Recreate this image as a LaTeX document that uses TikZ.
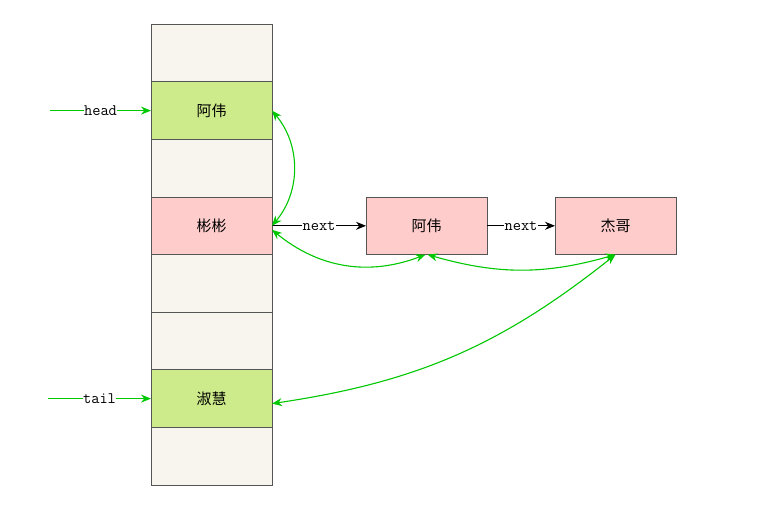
\documentclass[tikz,border=0pt]{standalone}
\usepackage{fontspec}
\newfontfamily\cjk{Noto Sans CJK SC}
\usetikzlibrary{positioning,arrows.meta}
\definecolor{cbeige}{HTML}{F7F5EE}
\definecolor{cverde}{HTML}{CDEB8B}
\definecolor{crosa}{HTML}{FFCCCC}
\definecolor{cborde}{HTML}{555555}
\definecolor{clinea}{HTML}{00C800}
\tikzset{
  celda/.style={rectangle, draw=cborde, fill=cbeige, line width=1pt,
    minimum width=121pt, minimum height=57.6pt, inner sep=0pt, outer sep=0pt,
    font=\cjk\fontsize{15}{17}\selectfont},
  celdav/.style={celda, fill=cverde},
  celdar/.style={celda, fill=crosa},
  flecha/.style={-{Stealth[length=10pt,width=8pt]}, line width=1.1pt, draw=black},
  flechav/.style={-{Stealth[length=10pt,width=8pt]}, line width=1.1pt, draw=clinea},
  dobleflecha/.style={{Stealth[length=10pt,width=8pt]}-{Stealth[length=10pt,width=8pt]},
    line width=1.1pt, draw=clinea},
  etq/.style={font=\ttfamily\fontsize{16}{18}\selectfont, fill=white, inner sep=0.5pt},
}
\begin{document}
\begin{tikzpicture}[x=1pt, y=1pt]
  \useasboundingbox (0,0) rectangle (758,-531);
  % columna
  \node[celda] (c0) at (211.5,-53) {};
  \node[celdav, below=0pt of c0] (c1) {阿伟};
  \node[celda, below=0pt of c1] (c2) {};
  \node[celdar, below=0pt of c2] (c3) {彬彬};
  \node[celda, below=0pt of c3] (c4) {};
  \node[celda, below=0pt of c4] (c5) {};
  \node[celdav, below=0pt of c5] (c6) {淑慧};
  \node[celda, below=0pt of c6] (c7) {};
  % lista
  \node[celdar, right=94pt of c3] (a1) {阿伟};
  \node[celdar, right=68pt of a1] (jg) {杰哥};
  \draw[flecha] (c3) -- node[etq] {next} (a1);
  \draw[flecha] (a1) -- node[etq] {next} (jg);
  % head / tail
  \coordinate[left=101pt of c1.west] (h);
  \coordinate[left=103pt of c6.west] (t);
  \draw[flechav] (h) -- node[etq] {head} (c1);
  \draw[flechav] (t) -- node[etq] {tail} (c6);
  % enlaces
  \draw[dobleflecha] (c1.east) to[bend left=40] (c3.east);
  \draw[dobleflecha] ([yshift=-4pt]c3.east) to[bend right=30] ([xshift=-1pt]a1.south);
  \draw[dobleflecha] ([xshift=1pt]a1.south) to[bend right=16] (jg.south);
  \draw[dobleflecha] ([yshift=-5pt]c6.east) to[bend right=15] (jg.south);
\end{tikzpicture}
\end{document}
